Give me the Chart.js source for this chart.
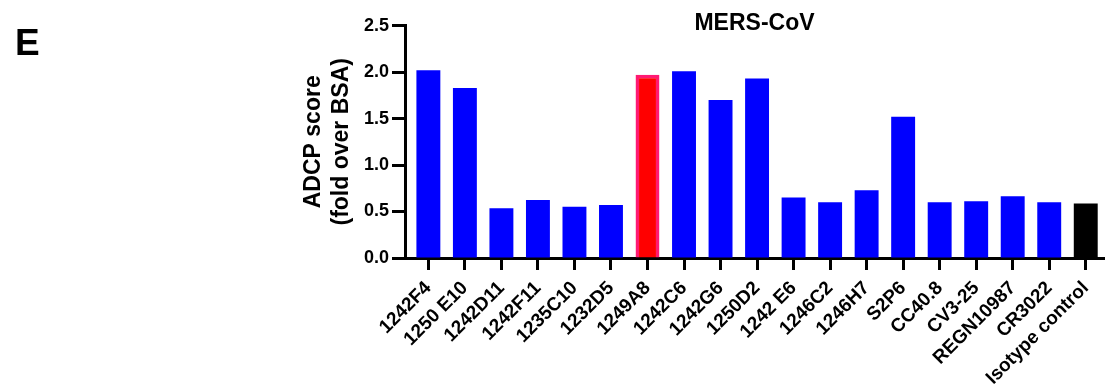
<!DOCTYPE html>
<html>
<head>
<meta charset="utf-8">
<script src="https://cdn.jsdelivr.net/npm/chart.js@4/dist/chart.umd.min.js"></script>
<style>
  html, body { margin: 0; padding: 0; background: #fff; }
  #wrap { width: 1109px; height: 387px; position: relative; }
</style>
</head>
<body>
<div id="wrap"><canvas id="c"></canvas></div>
<script>
// Antibodies tested against MERS-CoV spike
const antibodies = [
  '1242F4', '1250 E10', '1242D11', '1242F11', '1235C10', '1232D5', '1249A8',
  '1242C6', '1242G6', '1250D2', '1242 E6', '1246C2', '1246H7', 'S2P6',
  'CC40.8', 'CV3-25', 'REGN10987', 'CR3022', 'Isotype control'
];
// ADCP score (fold over BSA)
const adcpScores = [
  2.02, 1.83, 0.535, 0.625, 0.55, 0.57, 1.97,
  2.01, 1.70, 1.93, 0.65, 0.60, 0.73, 1.52,
  0.60, 0.61, 0.665, 0.60, 0.585
];
const yTickValues = [0, 0.5, 1.0, 1.5, 2.0, 2.5];
const panelLetter = 'E';
const chartTitle = 'MERS-CoV';
const yTitleLines = ['ADCP score', '(fold over BSA)'];
const highlightedAb = '1249A8';
const controlAb = 'Isotype control';

const FONT = "'Liberation Sans', Arial, Helvetica, sans-serif";

const fillFor = ab => ab === highlightedAb ? '#ff0000' : (ab === controlAb ? '#000000' : '#0000ff');
const edgeFor = ab => ab === highlightedAb ? '#ff1a72' : fillFor(ab);
const edgeWidthFor = ab => ab === highlightedAb ? 3.5 : 0;

// Draws the panel letter in the top-left corner
const panelLetterPlugin = {
  id: 'panelLetter',
  afterDraw(chart) {
    const ctx = chart.ctx;
    ctx.save();
    ctx.font = `bold 37px ${FONT}`;
    ctx.fillStyle = '#000';
    ctx.textAlign = 'left';
    ctx.textBaseline = 'alphabetic';
    ctx.fillText(panelLetter, 15, 55);
    ctx.restore();
  }
};

new Chart(document.getElementById('c'), {
  type: 'bar',
  data: {
    labels: antibodies,
    datasets: [{
      data: adcpScores,
      backgroundColor: antibodies.map(fillFor),
      borderColor: antibodies.map(edgeFor),
      borderWidth: antibodies.map(edgeWidthFor),
      barPercentage: 0.655,
      categoryPercentage: 1.0
    }]
  },
  options: {
    responsive: true,
    maintainAspectRatio: false,
    animation: false,
    devicePixelRatio: 1,
    layout: { padding: { left: 300, right: 2, top: 0, bottom: 0 } },
    plugins: {
      legend: { display: false },
      tooltip: { enabled: false },
      title: {
        display: true,
        text: chartTitle,
        fullSize: false,
        color: '#000',
        font: { family: FONT, size: 23, weight: 'bold' },
        padding: { top: 10, bottom: -12 }
      }
    },
    scales: {
      x: {
        offset: true,
        afterBuildTicks: s => { s._startValue -= 0.14; s._valueRange += 0.14; },
        afterFit: s => { s.height = 129; },
        grid: {
          display: true,
          offset: false,
          drawOnChartArea: false,
          drawTicks: true,
          tickLength: 12,
          tickWidth: 3,
          tickColor: '#000'
        },
        border: { display: true, width: 3, color: '#000' },
        ticks: {
          autoSkip: false,
          minRotation: 45,
          maxRotation: 45,
          padding: 7,
          color: '#000',
          font: { family: FONT, size: 19, weight: 'bold' }
        }
      },
      y: {
        min: yTickValues[0],
        max: yTickValues[yTickValues.length - 1],
        afterFit: s => { s.width = 105; },
        afterBuildTicks: s => { s.ticks = yTickValues.map(v => ({ value: v })); },
        grid: {
          display: true,
          drawOnChartArea: false,
          drawTicks: true,
          tickLength: 13,
          tickWidth: 3,
          tickColor: '#000'
        },
        border: { display: true, width: 3, color: '#000' },
        ticks: {
          padding: 3,
          color: '#000',
          font: { family: FONT, size: 18, weight: 'bold' },
          callback: v => Number(v).toFixed(1)
        },
        title: {
          display: true,
          text: yTitleLines,
          color: '#000',
          font: { family: FONT, size: 23, weight: 'bold', lineHeight: 1.2 },
          padding: { top: 0, bottom: 0 }
        }
      }
    }
  },
  plugins: [panelLetterPlugin]
});
</script>
</body>
</html>
